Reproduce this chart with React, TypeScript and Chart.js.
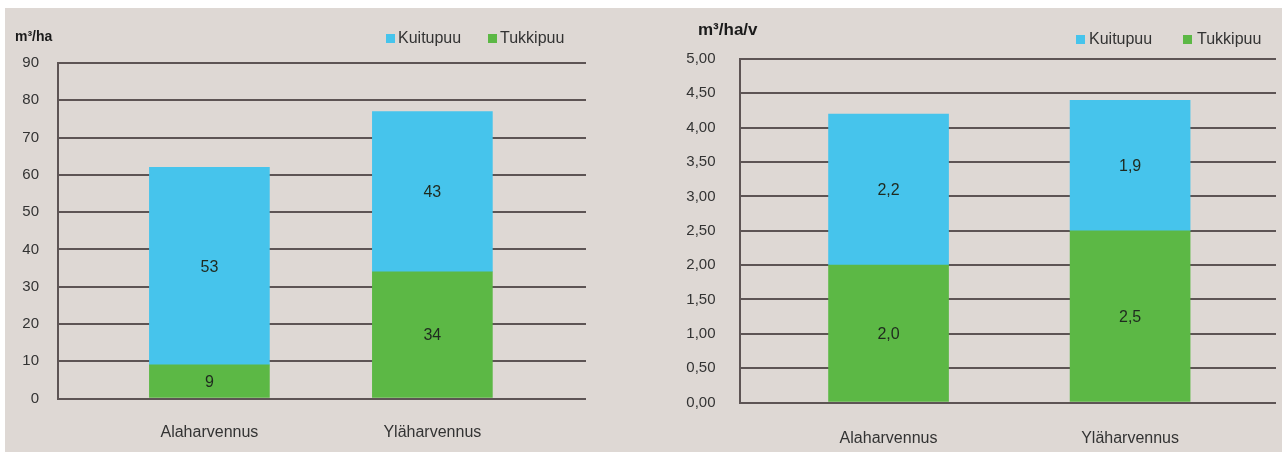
import React, { useEffect, useRef } from 'react';
import { Chart, registerables } from 'chart.js';

Chart.register(...registerables);

// ---- data ----
const categories = ['Alaharvennus', 'Yläharvennus'];
const seriesNames = ['Kuitupuu', 'Tukkipuu'];
const volumeKuitupuu = [53, 43];
const volumeTukkipuu = [9, 34];
const growthKuitupuu = [2.2, 1.9];
const growthTukkipuu = [2.0, 2.5];
const volumeUnit = 'm³/ha';
const growthUnit = 'm³/ha/v';

const BLUE = '#46c4ec';
const GREEN = '#5cb845';
const GRID = '#5d5454';
const BG = '#ded8d4';
const FONT = '"Liberation Sans", Arial, sans-serif';

type PanelCfg = {
  width: number;
  height: number;
  kuitu: number[];
  tukki: number[];
  yMax: number;
  yStep: number;
  tickFmt: (v: number) => string;
  labelFmt: (v: number) => string;
  xMin: number;
  xMax: number;
  yAxisWidth: number;
  rightPad: number;
  topPad: number;
  xAxisHeight: number;
  yTickPad: number;
  xTickPad: number;
  tickSize: number;
  catSize: number;
  title: string;
  titleX: number;
  titleY: number;
  titleSize: number;
  legend: { boxX: number; textX: number }[];
  legendY: number;
  legendSize: number;
};

function makePlugin(cfg: PanelCfg) {
  return {
    id: 'overlay',
    afterDatasetsDraw(chart: any) {
      const ctx = chart.ctx;
      ctx.save();
      ctx.font = `16px ${FONT}`;
      ctx.fillStyle = '#1f2a1f';
      ctx.textAlign = 'center';
      ctx.textBaseline = 'middle';
      chart.data.datasets.forEach((ds: any, di: number) => {
        const meta = chart.getDatasetMeta(di);
        meta.data.forEach((el: any, i: number) => {
          const p = el.getProps(['x', 'y', 'base'], true);
          ctx.fillText(cfg.labelFmt(ds.data[i].y), p.x, (p.y + p.base) / 2 + 1);
        });
      });
      ctx.restore();
    },
    afterDraw(chart: any) {
      const ctx = chart.ctx;
      ctx.save();
      ctx.fillStyle = '#1a1a1a';
      ctx.font = `bold ${cfg.titleSize}px ${FONT}`;
      ctx.textBaseline = 'alphabetic';
      ctx.textAlign = 'left';
      ctx.fillText(cfg.title, cfg.titleX, cfg.titleY);
      // legend
      ctx.font = `${cfg.legendSize}px ${FONT}`;
      ctx.textBaseline = 'middle';
      const order = [1, 0]; // Kuitupuu, Tukkipuu
      order.forEach((di, k) => {
        const ds = chart.data.datasets[di];
        const pos = cfg.legend[k];
        ctx.fillStyle = ds.backgroundColor;
        ctx.fillRect(pos.boxX, cfg.legendY - 5, 9, 9);
        ctx.fillStyle = '#333';
        ctx.fillText(ds.label, pos.textX, cfg.legendY);
      });
      ctx.restore();
    },
  };
}

function Panel({ cfg, style }: { cfg: PanelCfg; style: React.CSSProperties }) {
  const ref = useRef<HTMLCanvasElement>(null);
  useEffect(() => {
    if (!ref.current) return;
    const chart = new Chart(ref.current, {
      type: 'bar',
      data: {
        datasets: [
          {
            label: seriesNames[1],
            data: cfg.tukki.map((v, i) => ({ x: i, y: v })),
            backgroundColor: GREEN,
            barThickness: 120,
          },
          {
            label: seriesNames[0],
            data: cfg.kuitu.map((v, i) => ({ x: i, y: v })),
            backgroundColor: BLUE,
            barThickness: 120,
          },
        ],
      },
      options: {
        responsive: false,
        animation: false,
        devicePixelRatio: 1,
        layout: { padding: { left: 0, right: cfg.rightPad, top: cfg.topPad, bottom: 0 } },
        plugins: { legend: { display: false }, tooltip: { enabled: false } },
        scales: {
          x: {
            type: 'linear',
            stacked: true,
            offset: false,
            min: cfg.xMin,
            max: cfg.xMax,
            grid: { display: false },
            border: { display: false },
            afterBuildTicks: (scale: any) => {
              scale.ticks = categories.map((_, i) => ({ value: i }));
            },
            afterFit: (scale: any) => {
              scale.height = cfg.xAxisHeight;
            },
            ticks: {
              autoSkip: false,
              maxRotation: 0,
              padding: cfg.xTickPad,
              color: '#333',
              font: { family: FONT, size: cfg.catSize },
              callback: (v: any) => categories[v as number] ?? '',
            },
          },
          y: {
            stacked: true,
            min: 0,
            max: cfg.yMax,
            afterFit: (scale: any) => {
              scale.width = cfg.yAxisWidth;
            },
            grid: { color: GRID, lineWidth: 2, drawTicks: false },
            border: { display: true, color: GRID, width: 2 },
            ticks: {
              stepSize: cfg.yStep,
              padding: cfg.yTickPad,
              color: '#333',
              font: { family: FONT, size: cfg.tickSize },
              callback: (v: any) => cfg.tickFmt(Number(v)),
            },
          },
        },
      } as any,
      plugins: [makePlugin(cfg)],
    });
    return () => chart.destroy();
  }, [cfg]);
  return (
    <canvas
      ref={ref}
      width={cfg.width}
      height={cfg.height}
      style={{ position: 'absolute', display: 'block', width: cfg.width, height: cfg.height, ...style }}
    />
  );
}

const leftCfg: PanelCfg = {
  width: 635,
  height: 444,
  kuitu: volumeKuitupuu,
  tukki: volumeTukkipuu,
  yMax: 90,
  yStep: 10,
  tickFmt: (v) => String(Math.round(v)),
  labelFmt: (v) => String(Math.round(v)),
  xMin: -0.679,
  xMax: 1.689,
  yAxisWidth: 53,
  rightPad: 54,
  topPad: 55,
  xAxisHeight: 53.5,
  yTickPad: 19,
  xTickPad: 16,
  tickSize: 15,
  catSize: 16,
  title: volumeUnit,
  titleX: 10,
  titleY: 33,
  titleSize: 14,
  legend: [
    { boxX: 381, textX: 393 },
    { boxX: 483, textX: 495 },
  ],
  legendY: 31,
  legendSize: 16,
};

const rightCfg: PanelCfg = {
  width: 642,
  height: 444,
  kuitu: growthKuitupuu,
  tukki: growthTukkipuu,
  yMax: 5,
  yStep: 0.5,
  tickFmt: (v) => v.toFixed(2).replace('.', ','),
  labelFmt: (v) => v.toFixed(1).replace('.', ','),
  xMin: -0.617,
  xMax: 1.604,
  yAxisWidth: 99.5,
  rightPad: 6,
  topPad: 51,
  xAxisHeight: 49.5,
  yTickPad: 24,
  xTickPad: 18,
  tickSize: 15,
  catSize: 16,
  title: growthUnit,
  titleX: 58,
  titleY: 27,
  titleSize: 17,
  legend: [
    { boxX: 436, textX: 449 },
    { boxX: 543, textX: 557 },
  ],
  legendY: 32,
  legendSize: 16,
};

export default function App() {
  return (
    <div style={{ position: 'fixed', left: 0, top: 0, width: 1282, height: 454, background: '#fff' }}>
      <div style={{ position: 'absolute', left: 5, top: 8, width: 1277, height: 444, background: BG }} />
      <Panel cfg={leftCfg} style={{ left: 5, top: 8 }} />
      <Panel cfg={rightCfg} style={{ left: 640, top: 8 }} />
    </div>
  );
}
